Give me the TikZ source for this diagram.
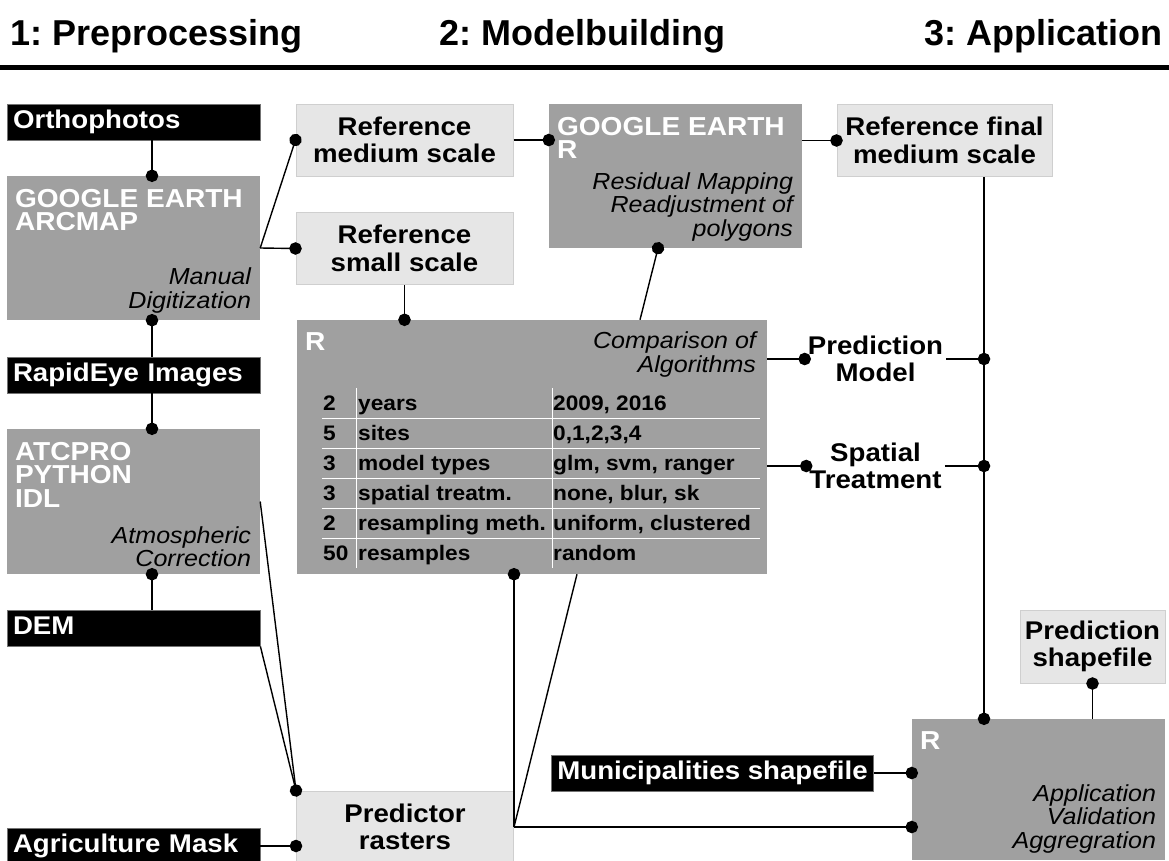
\documentclass[tikz,border=0pt]{standalone}
\usepackage{fontspec}
\setmainfont{Liberation Sans}[FakeStretch=1.08]
\newfontfamily\hdrfamily{Liberation Sans}
\usepackage{tikz}
\usetikzlibrary{
  arrows.meta,
  positioning,
  calc
}
\definecolor{toolgray}{HTML}{A0A0A0}
\definecolor{datafill}{HTML}{E6E6E6}
\definecolor{dataedge}{HTML}{CFCFCF}
\newcommand{\hdrfont}{\fontsize{36}{40}\hdrfamily\bfseries}
\newcommand{\lblfont}{\fontsize{25.6}{27.5}\selectfont\bfseries}
\newcommand{\ttlfont}{\fontsize{26}{23.5}\selectfont\bfseries}
\newcommand{\tskfont}{\fontsize{23.2}{23.5}\selectfont\itshape}
\newcommand{\tabfont}{\fontsize{21}{22}\selectfont\bfseries}
\frenchspacing

\begin{document}
\begin{tikzpicture}[x=1pt, y=-1pt,
  hdr/.style={font=\hdrfont, inner sep=0pt},
  inbox/.style={fill=black, draw=black!55, line width=0.8pt, text=white,
               font=\lblfont, inner xsep=6pt, inner ysep=6pt,
               text height=18.5pt, text depth=5.5pt, align=left},
  databox/.style={fill=datafill, draw=dataedge, line width=1pt,
               font=\lblfont, align=center, minimum width=217pt,
               minimum height=72pt, inner sep=2pt},
  toolbox/.style={fill=toolgray, inner sep=0pt},
  tooltitle/.style={text=white, font=\ttlfont, align=left,
               anchor=north west, inner xsep=8pt, inner ysep=13pt},
  tooltask/.style={font=\tskfont, align=right, anchor=south east,
               inner xsep=9pt, inner ysep=7pt},
  outlbl/.style={font=\lblfont, align=center, inner xsep=3pt, inner ysep=2pt},
  cell/.style={font=\tabfont, anchor=base west, inner sep=0pt},
  rule/.style={draw=white, line width=1pt},
  link/.style={line width=1.4pt},
  dot/.style={link, -{Circle[length=12.5pt]}, shorten >=-6.25pt},
]
  \useasboundingbox (0,0) rectangle (1169,860);

  % phases
  \node[hdr, anchor=base west] (hpre) at (10,45) {1: Preprocessing};
  \node[hdr, anchor=base west] (hmod) at (439,45) {2: Modelbuilding};
  \node[hdr, anchor=base east] (happ) at (1163,45) {3: Application};
  \draw[line width=5pt] (0,67) -- (1169,67);

  % preprocessing
  \node[inbox, text width=241pt] (ortho) at (133.5,122) {Orthophotos};
  \node[toolbox, minimum width=253pt, minimum height=144pt] (arcmap) at (133.5,248) {};
  \node[tooltitle] (arcmapsw) at (arcmap.north west) {GOOGLE EARTH\\ARCMAP};
  \node[tooltask] (arcmapjob) at (arcmap.south east) {Manual\\Digitization};
  \node[inbox, text width=241pt] (rapideye) at (133.5,375) {RapidEye Images};
  \node[toolbox, minimum width=253pt, minimum height=145pt] (atcor) at (133.5,501.5) {};
  \node[tooltitle] (atcorsw) at (atcor.north west) {ATCPRO\\PYTHON\\IDL};
  \node[tooltask] (atcorjob) at (atcor.south east) {Atmospheric\\Correction};
  \node[inbox, text width=241pt] (dem) at (133.5,628) {DEM};
  \node[inbox, text width=241pt] (agri) at (133.5,846) {Agriculture Mask};

  % modelbuilding
  \node[databox] (refmed) at (404.5,140) {Reference\\medium scale};
  \node[databox] (refsmall) at (404.5,248.5) {Reference\\small scale};
  \node[databox] (predras) at (405,827) {Predictor\\rasters};
  \node[toolbox, minimum width=253pt, minimum height=144pt] (georef) at (675.5,176) {};
  \node[tooltitle] (georefsw) at (georef.north west) {GOOGLE EARTH\\R};
  \node[tooltask] (georefjob) at (georef.south east)
    {Residual Mapping\\Readjustment of\\polygons};
  \node[toolbox, minimum width=470pt, minimum height=254pt] (compare) at (532,447) {};
  \node[tooltitle] (comparesw) at (compare.north west) {R};
  \node[tooltask, anchor=north east, inner xsep=11pt, inner ysep=12pt]
    (comparejob) at (compare.north east) {Comparison of\\Algorithms};
  \foreach \cnt/\what/\vals [count=\r from 0] in {2/years/{2009, 2016},
      5/sites/{0,1,2,3,4}, 3/model types/{glm, svm, ranger},
      3/spatial treatm./{none, blur, sk}, 2/resampling meth./{uniform, clustered},
      50/resamples/random}
  {
    \node[cell] (cnt\r) at (323,410+30*\r) {\cnt};
    \node[cell] (what\r) at (358,410+30*\r) {\what};
    \node[cell] (vals\r) at (553,410+30*\r) {\vals};
  }
  \foreach \yy in {418,448,478,508,538}
    \draw[rule] (322,\yy) -- (760,\yy);
  \draw[rule] (356,388) -- (356,568);
  \draw[rule] (552,388) -- (552,568);
  \node[inbox] (munic) at (712.5,773) {Municipalities shapefile};

  % application
  \node[databox, minimum width=215pt] (reffinal) at (944.5,140.5)
    {Reference final\\medium scale};
  \node[outlbl] (predmod) at (875.5,359) {Prediction\\Model};
  \node[outlbl] (spatial) at (875.5,466) {Spatial\\Treatment};
  \node[databox, minimum width=145pt, minimum height=73pt] (predshp) at (1092.5,646.5)
    {Prediction\\shapefile};
  \node[toolbox, minimum width=253pt, minimum height=141pt] (app) at (1038.5,789.5) {};
  \node[tooltitle] (appsw) at (app.north west) {R};
  \node[tooltask] (appjob) at (app.south east)
    {Application\\Validation\\Aggregration};
  \coordinate (trunk) at ([xshift=39.5pt]reffinal.south);

  % left column chain
  \draw[dot] ([xshift=18.5pt]ortho.south) -- ([xshift=18.5pt]arcmap.north);
  \draw[dot] ([xshift=18.5pt]rapideye.north) -- ([xshift=18.5pt]arcmap.south);
  \draw[dot] ([xshift=18.5pt]rapideye.south) -- ([xshift=18.5pt]atcor.north);
  \draw[dot] ([xshift=18.5pt]dem.north) -- ([xshift=18.5pt]atcor.south);
  % references
  \draw[dot] (arcmap.east) -- (refmed.west);
  \draw[dot] (arcmap.east) -- (refsmall.west);
  \draw[dot] (refmed.east) -- (refmed.east -| georef.west);
  \draw[dot] (reffinal.west -| georef.east) -- (reffinal.west);
  \draw[dot] (refsmall.south) -- (refsmall.south |- compare.north);
  \draw[dot] ([xshift=108pt]compare.north) -- ([xshift=-17.5pt]georef.south);
  % predictors
  \draw[dot] (atcor.east) -- (predras.north west);
  \draw[link] (dem.south east) -- (predras.north west);
  \draw[dot] (agri.east) -- (agri.east -| predras.west);
  \draw[dot] (predras.east) -- (predras.east |- compare.south);
  \draw[link] (predras.east) -- ([xshift=45pt]compare.south);
  \draw[dot] (predras.east) -- (predras.east -| app.west);
  % outputs
  \draw[dot] (compare.east |- predmod.west) -- (predmod.west);
  \draw[dot] (compare.east |- spatial.west) -- (spatial.west);
  \draw[dot] (predmod.east) -- (predmod.east -| trunk);
  \draw[dot] (spatial.east) -- (spatial.east -| trunk);
  \draw[dot] (trunk) -- (trunk |- app.north);
  \draw[dot] (predshp.south |- app.north) -- (predshp.south);
  \draw[dot] (munic.east) -- (munic.east -| app.west);
\end{tikzpicture}
\end{document}
